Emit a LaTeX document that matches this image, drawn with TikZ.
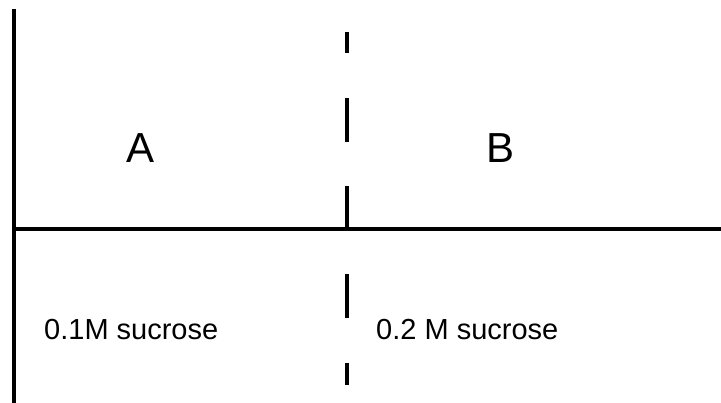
\documentclass[tikz,border=0pt]{standalone}
\usepackage{fontspec}
\setmainfont{Liberation Sans}
\begin{document}
\begin{tikzpicture}[x=1pt,y=-1pt,
  wall/.style={line width=4pt,black},
  lbl/.style={inner sep=0pt,anchor=base west}]
\useasboundingbox (0,0) rectangle (721,403);
\coordinate (lt) at (14,9);
\coordinate (lb) at (14,403);
\coordinate (hl) at (14,229);
\coordinate (hr) at (721,229);
\draw[wall] (lt) -- (lb);
\draw[wall] (hl) -- (hr);
\draw[wall] (347,32) -- (347,53);
\draw[wall] (347,98) -- (347,142);
\draw[wall] (347,186) -- (347,229);
\draw[wall] (347,274) -- (347,318);
\draw[wall] (347,363) -- (347,385);
\node[lbl,font=\fontsize{42}{42}\selectfont] (A) at (126,163) {A};
\node[lbl,font=\fontsize{42}{42}\selectfont] (B) at (486,163) {B};
\node[lbl,font=\fontsize{29}{29}\selectfont] (s1) at (44,340) {0.1M sucrose};
\node[lbl,font=\fontsize{29}{29}\selectfont] (s2) at (376,340) {0.2 M sucrose};
\end{tikzpicture}
\end{document}
